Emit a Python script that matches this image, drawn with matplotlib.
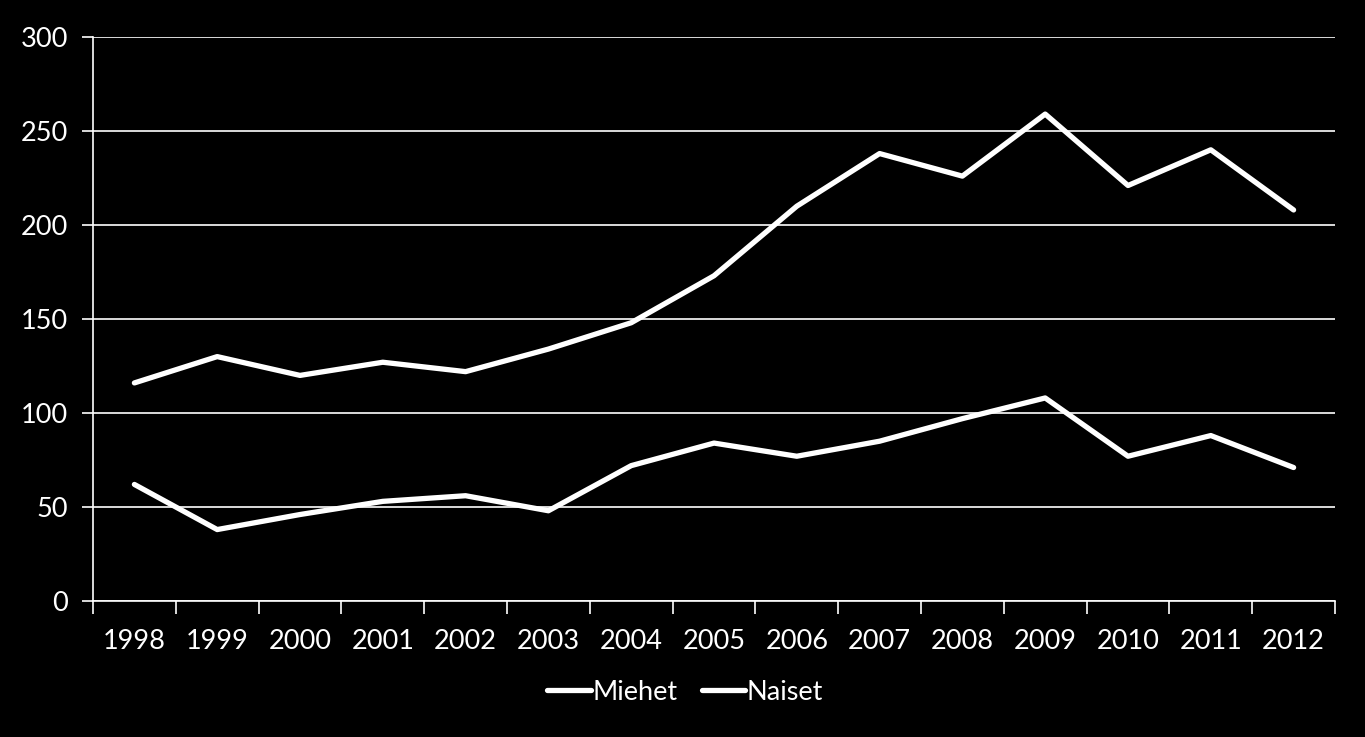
import matplotlib
matplotlib.use("Agg")
import matplotlib.pyplot as plt
import numpy as np

years = ["1998", "1999", "2000", "2001", "2002", "2003", "2004", "2005",
         "2006", "2007", "2008", "2009", "2010", "2011", "2012"]
miehet = [116, 130, 120, 127, 122, 134, 148, 173, 210, 238, 226, 259, 221, 240, 208]
naiset = [62, 38, 46, 53, 56, 48, 72, 84, 77, 85, 97, 108, 77, 88, 71]
yticks = [0, 50, 100, 150, 200, 250, 300]

plt.rcParams['font.family'] = ['Lato', 'DejaVu Sans']

fig = plt.figure(figsize=(13.65, 7.37), dpi=100, facecolor='black')
ax = fig.add_axes([93/1365, 1-601/737, (1335-93)/1365, (601-37)/737])
ax.set_facecolor('black')

x = np.arange(len(years))
ax.plot(x, miehet, color='white', lw=3.8, label='Miehet', solid_capstyle='round', solid_joinstyle='round')
ax.plot(x, naiset, color='white', lw=3.8, label='Naiset', solid_capstyle='round', solid_joinstyle='round')

ax.set_xlim(-0.5, len(years) - 0.5)
ax.set_ylim(0, 300)
ax.set_yticks(yticks)
ax.set_yticklabels([str(v) for v in yticks])
ax.set_xticks(x)
ax.set_xticklabels(years)
ax.set_xticks(np.arange(-0.5, len(years)), minor=True)
ax.tick_params(axis='x', which='major', length=0, pad=20, colors='white', labelsize=19.5)
ax.tick_params(axis='x', which='minor', length=9, width=1.2, color='white', direction='out')
ax.tick_params(axis='y', length=8, width=1.2, color='white', direction='out', pad=10,
               labelcolor='white', labelsize=19.5)

ax.grid(axis='y', color='white', lw=1.2)
ax.set_axisbelow(True)
for s in ['top', 'right']:
    ax.spines[s].set_visible(False)
for s in ['left', 'bottom']:
    ax.spines[s].set_color('white')
    ax.spines[s].set_linewidth(1.2)

leg = fig.legend(loc='center', bbox_to_anchor=(685/1365, 1-692/737), ncol=2, frameon=False,
                 fontsize=19.5, handlelength=1.6, handletextpad=0.05, columnspacing=0.9)
for t in leg.get_texts():
    t.set_color('white')

fig.savefig('out.png', dpi=100, facecolor='black')
